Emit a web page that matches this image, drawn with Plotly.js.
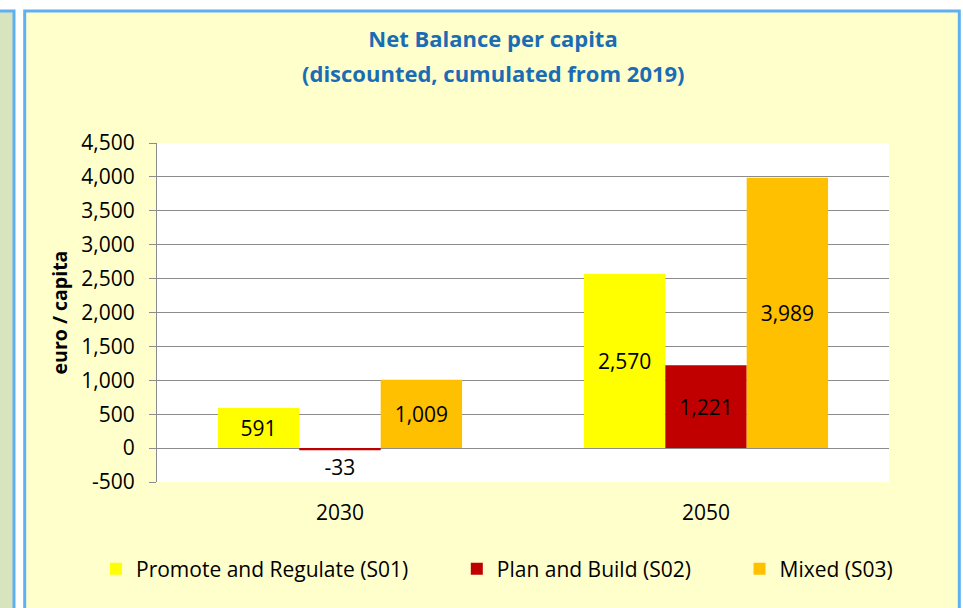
<!DOCTYPE html>
<html>
<head>
<meta charset="utf-8">
<script src="https://cdn.plot.ly/plotly-3.0.1.min.js"></script>
<style>html,body{margin:0;padding:0;background:#fff;}#chart{width:963px;height:608px;}</style>
</head>
<body>
<div id="chart"></div>
<script>
// ---- data ----
const categories = ['2030', '2050'];
const seriesNames = ['Promote and Regulate (S01)', 'Plan and Build (S02)', 'Mixed (S03)'];
const s01Values = [591, 2570];
const s02Values = [-33, 1221];
const s03Values = [1009, 3989];
const yTickVals = [-500, 0, 500, 1000, 1500, 2000, 2500, 3000, 3500, 4000, 4500];
const yTickText = ['-500', '0', '500', '1,000', '1,500', '2,000', '2,500', '3,000', '3,500', '4,000', '4,500'];
const seriesColors = ['#FFFF00', '#C00000', '#FFC000'];

// ---- geometry helpers (pixel -> paper) ----
const W = 963, H = 608;
const M = {l: 157, r: 74, t: 143, b: 126};
const PW = W - M.l - M.r, PH = H - M.t - M.b;
const px = x => (x - M.l) / PW;
const py = y => (H - M.b - y) / PH;

const fmt = v => v.toLocaleString('en-US');
const FONT = '"Open Sans", "Noto Sans", "Liberation Sans", sans-serif';
const gridCol = '#8C8C8C';
const FS = 21;

const seriesData = [s01Values, s02Values, s03Values];
const pad = ['\u00a0'.repeat(8), '\u00a0'.repeat(8), ''];
const traces = seriesData.map((vals, i) => ({
  type: 'bar',
  name: seriesNames[i] + pad[i],
  x: categories,
  y: vals,
  text: vals.map(fmt),
  textposition: 'auto',
  insidetextanchor: 'middle',
  textangle: 0,
  constraintext: 'none',
  insidetextfont: {family: FONT, size: FS, color: '#000'},
  outsidetextfont: {family: FONT, size: FS, color: '#000'},
  marker: {color: seriesColors[i], line: {width: 0}},
  hoverinfo: 'x+y+name'
}));

const layout = {
  width: W, height: H,
  margin: {l: M.l, r: M.r, t: M.t, b: M.b, pad: 0},
  paper_bgcolor: '#FFFFFF',
  plot_bgcolor: '#FFFFFF',
  font: {family: FONT, size: FS, color: '#000'},
  barmode: 'group',
  bargap: 0.333,
  bargroupgap: 0,
  title: {
    text: '<b>Net Balance per capita</b>',
    font: {family: FONT, size: 22, color: '#1A6DB5'},
    xref: 'container', x: 493 / W, xanchor: 'center',
    yref: 'container', y: 1 - 39 / H, yanchor: 'middle'
  },
  annotations: [{
    text: '<b>(discounted, cumulated from 2019)</b>',
    font: {family: FONT, size: 22, color: '#1A6DB5'},
    xref: 'paper', x: px(493), xanchor: 'center',
    yref: 'paper', y: py(73), yanchor: 'middle',
    showarrow: false
  }],
  xaxis: {
    type: 'category',
    showgrid: false, zeroline: false, showline: false,
    ticks: '',
    tickfont: {family: FONT, size: FS, color: '#000'},
    ticklabelstandoff: 16
  },
  yaxis: {
    range: [-500, 4500],
    tickvals: yTickVals, ticktext: yTickText,
    ticks: 'outside', ticklen: 7, tickcolor: gridCol, tickwidth: 1,
    showline: true, linecolor: gridCol, linewidth: 1,
    showgrid: true, gridcolor: gridCol, gridwidth: 1,
    zeroline: true, zerolinecolor: gridCol, zerolinewidth: 1,
    tickfont: {family: FONT, size: FS, color: '#000'},
    ticklabelstandoff: 10,
    title: {text: '<b>euro / capita</b>', font: {family: FONT, size: 19.5, color: '#000'}, standoff: 8}
  },
  legend: {
    orientation: 'h',
    x: px(96), xanchor: 'left',
    y: py(569), yanchor: 'middle',
    font: {family: FONT, size: FS, color: '#000'},
    bgcolor: 'rgba(0,0,0,0)',
    traceorder: 'normal'
  },
  showlegend: true,
  shapes: [
    {type: 'rect', xref: 'paper', yref: 'paper', layer: 'below',
     x0: px(-10), x1: px(14), y0: py(11), y1: py(640),
     fillcolor: '#D7E4BD', line: {color: '#5EB0F2', width: 3}},
    {type: 'rect', xref: 'paper', yref: 'paper', layer: 'below',
     x0: px(24.7), x1: px(959.3), y0: py(11), y1: py(640),
     fillcolor: '#FFFFCC', line: {color: '#5EB0F2', width: 3}},
    {type: 'rect', xref: 'paper', yref: 'paper', layer: 'below',
     x0: 0, x1: 1, y0: 0, y1: 1,
     fillcolor: '#FFFFFF', line: {width: 0}}
  ]
};

Plotly.newPlot('chart', traces, layout, {displayModeBar: false, staticPlot: true});
</script>
</body>
</html>
